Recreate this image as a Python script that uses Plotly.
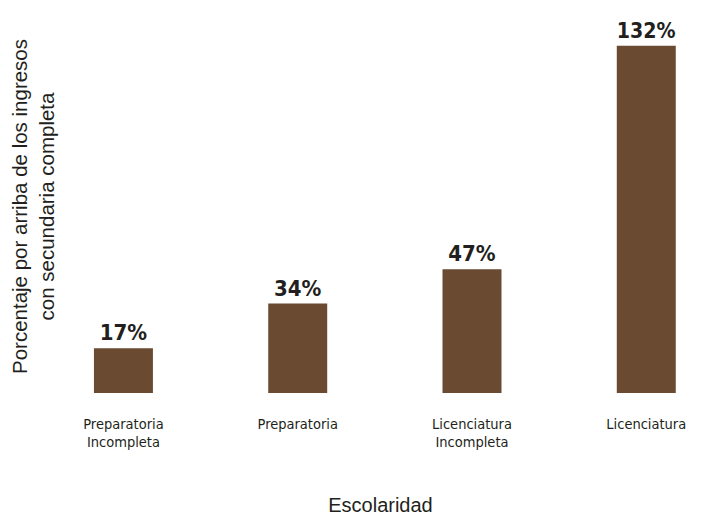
import plotly.graph_objs as go

categorias = ['Preparatoria<br>Incompleta', 'Preparatoria', 'Licenciatura<br>Incompleta', 'Licenciatura']
valores = [17, 34, 47, 132]
etiquetas = ['17%', '34%', '47%', '132%']

narrow = 'Liberation Sans Narrow, DejaVu Sans Condensed, Arial Narrow, sans-serif'
regular = 'Liberation Sans, Arial, sans-serif'

fig = go.Figure()  # declare figure

fig.add_trace(go.Bar(x=list(range(len(valores))), y=valores, text=etiquetas,
                     textposition='outside', cliponaxis=False, width=0.3385,
                     marker=dict(color='#6B4A32', line=dict(width=0)),
                     textfont=dict(family=narrow, size=22, color='#231F20', weight='bold')))

# the page body adds an 8px offset, so margins are trimmed to keep the plot where it sits in the reference
fig.update_xaxes(range=[-0.364, 3.314], tickvals=list(range(len(valores))), ticktext=categorias,
                 tickfont=dict(family=narrow, size=14.5, color='#231F20'), ticks='', showline=False,
                 ticklabelstandoff=20, showgrid=False, zeroline=False,
                 title=dict(text='Escolaridad', font=dict(family=regular, size=20, color='#231F20'),
                            standoff=52))
fig.update_yaxes(range=[0, 141.8], showticklabels=False, showgrid=False, zeroline=False, ticks='',
                 title=dict(text='Porcentaje por arriba de los ingresos<br>con secundaria completa',
                            font=dict(family=regular, size=20.5, color='#231F20'), standoff=2))

fig.update_layout(width=693, height=508, margin=dict(l=52, r=0, t=12, b=121),
                  plot_bgcolor='white', paper_bgcolor='white', showlegend=False)

fig.write_html("out.html")
